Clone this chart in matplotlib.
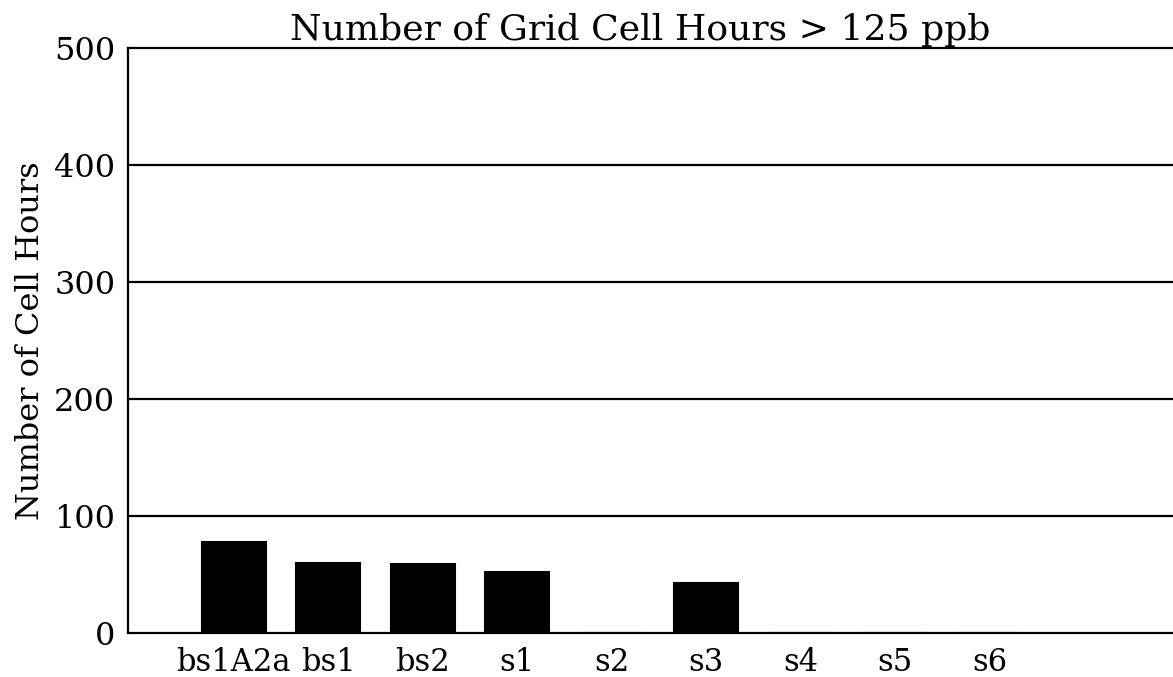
import numpy as np
import matplotlib.pyplot as plt

# ----- data -----
scenarios = ['bs1A2a', 'bs1', 'bs2', 's1', 's2', 's3', 's4', 's5', 's6']
cell_hours = [78, 60, 59, 52, 0, 43, 0, 0, 0]
y_ticks = [0, 100, 200, 300, 400, 500]

plt.rcParams['font.family'] = ['DejaVu Serif']

fig = plt.figure(figsize=(11.73, 6.77), dpi=100)
ax = fig.add_axes([0.109, 0.065, 0.891, 0.864])

x = np.arange(len(scenarios))
ax.bar(x, cell_hours, width=0.68, color='black', edgecolor='black',
       linewidth=1.5, zorder=3)

ax.set_ylim(0, 500)
ax.set_xlim(-1.12, 9.94)
ax.set_yticks(y_ticks)
ax.set_xticks(x)
ax.set_xticklabels(scenarios)
ax.tick_params(axis='both', length=0)
ax.tick_params(axis='y', pad=9, labelsize=23)
ax.tick_params(axis='x', pad=10, labelsize=22)

for v in y_ticks[1:-1]:
    ax.axhline(v, color='black', lw=1.6, zorder=1)

ax.spines['right'].set_visible(False)
for s in ['left', 'top', 'bottom']:
    ax.spines[s].set_linewidth(1.6)

ax.set_ylabel('Number of Cell Hours', fontsize=23, labelpad=6)
ax.set_title('Number of Grid Cell Hours > 125 ppb', fontsize=26, pad=6, x=0.49)

fig.savefig('out.png', dpi=100)
